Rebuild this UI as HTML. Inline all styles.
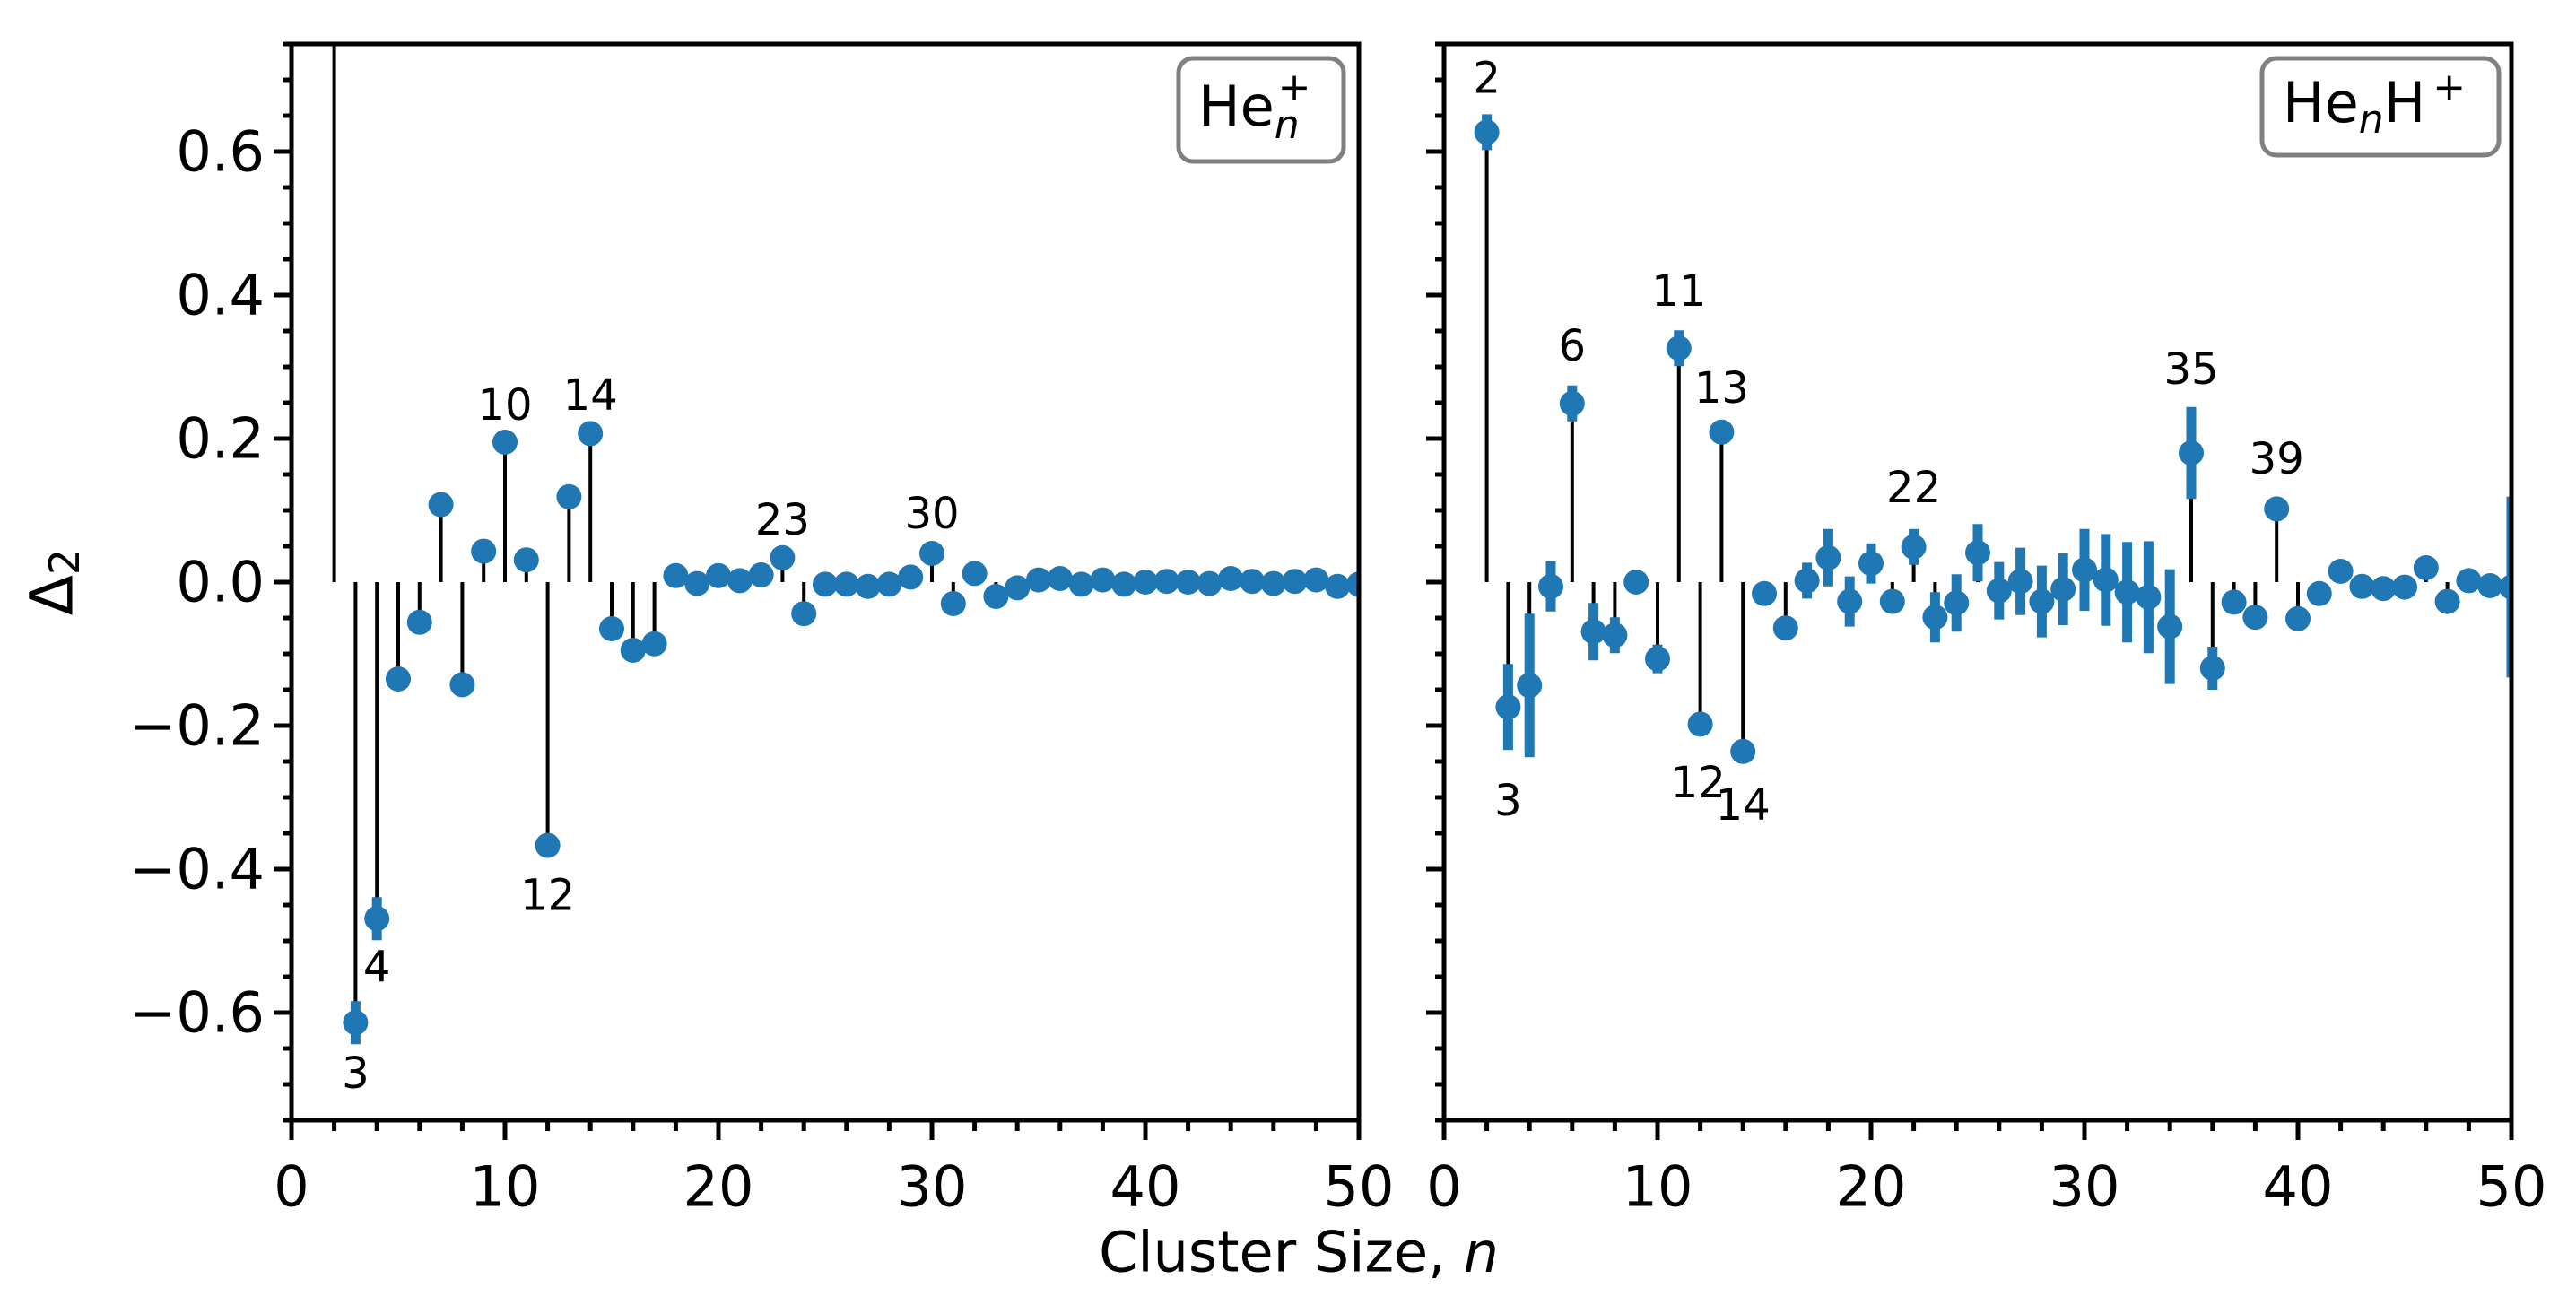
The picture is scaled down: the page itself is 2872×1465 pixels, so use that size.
<!DOCTYPE html>
<html><head><meta charset="utf-8"><style>
html,body{margin:0;padding:0;background:#fff;}
svg{display:block;font-family:"DejaVu Sans","Liberation Sans",sans-serif;}
</style></head><body>
<svg id="fig" width="2872" height="1465" viewBox="0 0 2872 1465" xmlns="http://www.w3.org/2000/svg">
<g id="root"></g>
</svg>
<script>
const nLeft = [2,3,4,5,6,7,8,9,10,11,12,13,14,15,16,17,18,19,20,21,22,23,24,25,26,27,28,29,30,31,32,33,34,35,36,37,38,39,40,41,42,43,44,45,46,47,48,49,50];
const valLeft = [1.2,-0.614,-0.469,-0.135,-0.056,0.108,-0.143,0.043,0.195,0.031,-0.367,0.119,0.207,-0.065,-0.095,-0.086,0.009,-0.002,0.009,0.002,0.010,0.034,-0.044,-0.003,-0.003,-0.006,-0.003,0.007,0.040,-0.030,0.012,-0.020,-0.008,0.003,0.005,-0.003,0.003,-0.003,0.0,0.001,0.0,-0.002,0.005,0.001,-0.002,0.001,0.003,-0.006,-0.003];
const errLeft = [0.01,0.03,0.03,0.01,0.01,0.01,0.01,0.01,0.01,0.01,0.01,0.01,0.01,0.01,0.01,0.01,0.005,0.005,0.005,0.005,0.005,0.005,0.005,0.005,0.005,0.005,0.005,0.005,0.005,0.005,0.005,0.005,0.005,0.005,0.005,0.005,0.005,0.005,0.005,0.005,0.005,0.005,0.005,0.005,0.005,0.005,0.005,0.005,0.005];
const nRight = [2,3,4,5,6,7,8,9,10,11,12,13,14,15,16,17,18,19,20,21,22,23,24,25,26,27,28,29,30,31,32,33,34,35,36,37,38,39,40,41,42,43,44,45,46,47,48,49,50];
const valRight = [0.627,-0.174,-0.144,-0.006,0.249,-0.069,-0.074,0.0,-0.107,0.326,-0.198,0.209,-0.236,-0.016,-0.064,0.002,0.034,-0.027,0.026,-0.027,0.049,-0.049,-0.029,0.041,-0.012,0.001,-0.027,-0.010,0.017,0.003,-0.014,-0.021,-0.062,0.180,-0.120,-0.028,-0.049,0.102,-0.051,-0.016,0.015,-0.006,-0.009,-0.007,0.020,-0.027,0.002,-0.005,-0.007];
const errRight = [0.025,0.06,0.1,0.035,0.025,0.04,0.025,0.005,0.02,0.025,0.008,0.008,0.008,0.008,0.008,0.025,0.04,0.035,0.028,0.015,0.025,0.035,0.04,0.04,0.04,0.047,0.05,0.05,0.057,0.064,0.07,0.078,0.08,0.064,0.03,0.008,0.008,0.008,0.008,0.008,0.008,0.008,0.008,0.008,0.008,0.008,0.008,0.008,0.126];
const annLeftText = ["3","4","10","12","14","23","30"];
const annLeftX = [3,4,10,12,14,23,30];
const annLeftY = [-0.685,-0.537,0.246,-0.437,0.26,0.086,0.095];
const annRightText = ["2","3","6","11","12","13","14","22","35","39"];
const annRightX = [2,3,6,11,11.9,13,14,22,35,39];
const annRightY = [0.702,-0.305,0.329,0.405,-0.28,0.27,-0.311,0.131,0.296,0.171];
const yTicks = [-0.6,-0.4,-0.2,0.0,0.2,0.4,0.6];
const yTickLabels = ["\u22120.6","\u22120.4","\u22120.2","0.0","0.2","0.4","0.6"];
const xTicks = [0,10,20,30,40,50];
const xTickLabels = ["0","10","20","30","40","50"];

const NS="http://www.w3.org/2000/svg";
const root=document.getElementById('root');
function mk(tag,attrs,parent){const e=document.createElementNS(NS,tag);for(const k in attrs)e.setAttribute(k,attrs[k]);(parent||root).appendChild(e);return e;}
const TOP=49,BOT=1249,YMIN=-0.75,YMAX=0.75;
function yS(v){return BOT-(v-YMIN)/(YMAX-YMIN)*(BOT-TOP);}
function makeX(x0,x1){return v=>x0+v/50*(x1-x0);}
const BLUE="#1f77b4";

function panel(name,x0,x1,ns,vals,errs,aT,aX,aY,showLabels,legendFn){
  const xS=makeX(x0,x1);
  const g=mk('g',{});
  
  
  const clipId='clip-'+name;
  const cp=mk('clipPath',{id:clipId},g);mk('rect',{x:x0,y:TOP,width:x1-x0,height:BOT-TOP},cp);
  const plot=mk('g',{'clip-path':'url(#'+clipId+')'},g);
  // stems
  ns.forEach((n,i)=>{const l=mk('line',{x1:xS(n),x2:xS(n),y1:yS(0),y2:yS(vals[i]),stroke:'#000','stroke-width':4},plot);
    
    });
  // errorbars
  ns.forEach((n,i)=>{const l=mk('line',{x1:xS(n),x2:xS(n),y1:yS(vals[i]-errs[i]),y2:yS(vals[i]+errs[i]),stroke:BLUE,'stroke-width':11},plot);
    
    });
  // markers
  ns.forEach((n,i)=>{const c=mk('circle',{cx:xS(n),cy:yS(vals[i]),r:14,fill:BLUE},plot);
    
    });
  // annotations
  aT.forEach((t,i)=>{const e=mk('text',{x:xS(aX[i]),y:yS(aY[i]),'font-size':48,'text-anchor':'middle','dominant-baseline':'central',fill:'#000'},g);e.textContent=t;
    
    });
  // y ticks
  for(let k=-15;k<=15;k++){const v=k*0.05;const major=(k%4===0);const y=yS(v);
    mk('line',{x1:x0,x2:x0-(major?20:10),y1:y,y2:y,stroke:'#000','stroke-width':5},g);}
  yTicks.forEach((v,i)=>{ if(showLabels){const e=mk('text',{x:x0-30,y:yS(v),'font-size':62,'text-anchor':'end','dominant-baseline':'central'},g);e.textContent=yTickLabels[i];
    
    }});
  // x ticks
  for(let v=0;v<=50;v+=2){const major=(v%10===0);mk('line',{x1:xS(v),x2:xS(v),y1:BOT,y2:BOT+(major?22:12),stroke:'#000','stroke-width':5},g);}
  xTicks.forEach((v,i)=>{const e=mk('text',{x:xS(v),y:1323,'font-size':62,'text-anchor':'middle','dominant-baseline':'central'},g);e.textContent=xTickLabels[i];
    
    });
  // frame
  const fr=mk('rect',{x:x0,y:TOP,width:x1-x0,height:BOT-TOP,fill:'none',stroke:'#000','stroke-width':5},g);
  
  
  legendFn(g);
}
panel('left-panel',325,1515,nLeft,valLeft,errLeft,annLeftText,annLeftX,annLeftY,true,function(g){
  const b=mk('rect',{x:1314,y:65,width:184,height:115,rx:16,fill:'#fff',stroke:'#808080','stroke-width':5},g);
  
  
  const t=mk('text',{x:1336,y:140,'font-size':62},g);
  
  
  t.innerHTML='He<tspan font-size="44" font-style="italic" dy="14">n</tspan><tspan font-size="44" dy="-42" dx="-24">+</tspan>';
});
panel('right-panel',1610,2800,nRight,valRight,errRight,annRightText,annRightX,annRightY,false,function(g){
  const b=mk('rect',{x:2522,y:65,width:264,height:108,rx:16,fill:'#fff',stroke:'#808080','stroke-width':5},g);
  
  
  const t=mk('text',{x:2545,y:136,'font-size':62},g);
  
  
  t.innerHTML='He<tspan font-size="44" font-style="italic" dy="12">n</tspan><tspan dy="-12">H</tspan><tspan font-size="44" dy="-24" dx="8">+</tspan>';
});
const yl=mk('text',{x:0,y:0,'font-size':66,'text-anchor':'middle','dominant-baseline':'central',transform:'translate(58,649) rotate(-90)'});


yl.innerHTML='Δ<tspan font-size="46" dy="14">2</tspan>';
const xl=mk('text',{x:1448,y:1396,'font-size':62,'text-anchor':'middle','dominant-baseline':'central'});


xl.innerHTML='Cluster Size, <tspan font-style="italic">n</tspan>';
</script>
</body></html>
